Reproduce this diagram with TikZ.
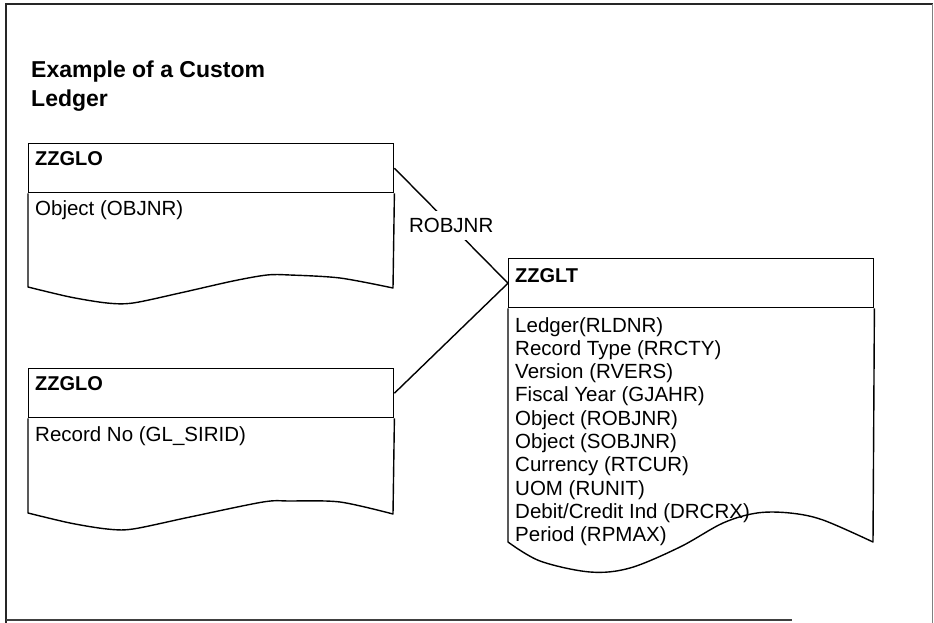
\documentclass[tikz,border=0pt]{standalone}
\usepackage{fontspec}
\setmainfont{Liberation Sans}
\begin{document}
\begin{tikzpicture}[x=1pt,y=-1pt,
  outline/.style={draw=black, line width=1.4pt},
  hdr/.style={outline, rectangle, inner sep=0pt, anchor=north west, minimum width=365, minimum height=49},
  hdrtxt/.style={anchor=base west, inner sep=0pt, font=\bfseries\fontsize{20}{24}\selectfont},
  fld/.style={anchor=base west, inner sep=0pt, font=\fontsize{20.5}{23.3}\selectfont},
  ttl/.style={anchor=base west, inner sep=0pt, font=\bfseries\fontsize{23}{29}\selectfont},
  conn/.style={draw=black, line width=1.4pt},
  lbl/.style={fill=white, inner xsep=2pt, inner ysep=7pt, font=\fontsize{20.5}{24}\selectfont}
]
\useasboundingbox (0,0) rectangle (934,623);
% frame
\draw[line width=2pt, black!85] (6,623) -- (6,4.5) -- (933,4.5);
\draw[line width=1.2pt, black!50] (932.5,4.5) -- (932.5,623);
\draw[line width=2.2pt, black!75] (6,620) -- (792,620);

% title
\node[ttl] (title1) at (31,78) {Example of a Custom};
\node[ttl] (title2) at (31,107) {Ledger};

% box 1
\node[hdr] (h1) at (28,143) {};
\node[hdrtxt] (t1) at (35,165) {ZZGLO};
\draw[outline, line join=round] (h1.south west) -- (28,287)
  -- plot[smooth, tension=0.5] coordinates {(28,287) (70,297) (107,303) (133,303) (180,293) (233,281) (267,275) (290,275) (340,278) (393,288)}
  -- (h1.south east);
\node[fld] (b1) at (35,215) {Object (OBJNR)};

% box 2
\node[hdr] (h2) at (28,368) {};
\node[hdrtxt] (t2) at (35,390) {ZZGLO};
\draw[outline, line join=round] (h2.south west) -- (28,513)
  -- plot[smooth, tension=0.5] coordinates {(28,513) (70,523) (107,529) (133,529) (190,517) (263,502) (290,501) (340,502) (393,514)}
  -- (h2.south east);
\node[fld] (b2) at (35,441) {Record No (GL\_SIRID)};

% box 3
\node[hdr] (h3) at (508,258) {};
\node[hdrtxt] (t3) at (515,282) {ZZGLT};
\draw[outline, line join=round] (h3.south west) -- (508,542)
  -- plot[smooth, tension=0.55] coordinates {(508,542) (540,561) (590,572) (630,568) (680,547) (723,523) (757,513) (790,513) (823,520) (873,542)}
  -- (h3.south east);
\node[fld] (f0) at (515,332.0) {Ledger(RLDNR)};
\node[fld] (f1) at (515,355.3) {Record Type (RRCTY)};
\node[fld] (f2) at (515,378.6) {Version (RVERS)};
\node[fld] (f3) at (515,401.9) {Fiscal Year (GJAHR)};
\node[fld] (f4) at (515,425.2) {Object (ROBJNR)};
\node[fld] (f5) at (515,448.5) {Object (SOBJNR)};
\node[fld] (f6) at (515,471.8) {Currency (RTCUR)};
\node[fld] (f7) at (515,495.1) {UOM (RUNIT)};
\node[fld] (f8) at (515,518.4) {Debit/Credit Ind (DRCRX)};
\node[fld] (f9) at (515,541.7) {Period (RPMAX)};

% connectors
\draw[conn] (h1.east) -- (h3.west) node[midway, lbl] (lab) {ROBJNR};
\draw[conn] (h2.east) -- (h3.west);
\end{tikzpicture}
\end{document}
